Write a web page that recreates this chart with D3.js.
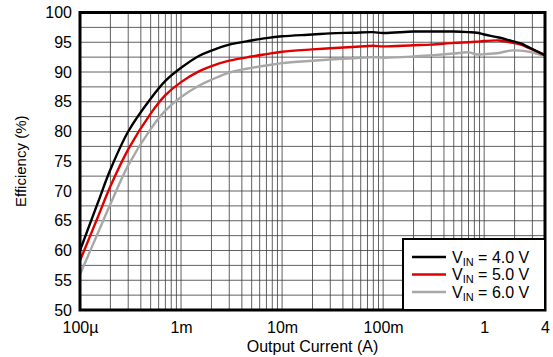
<!DOCTYPE html>
<html><head><meta charset="utf-8">
<script src="https://cdn.jsdelivr.net/npm/d3@7"></script>
<style>
html,body{margin:0;padding:0;background:#fff;}
text{font-family:"Liberation Sans",Arial,Helvetica,sans-serif;fill:#000;}
</style></head>
<body>
<svg id="chart" width="553" height="357"></svg>
<script>
const currents = [1e-4,1.5e-4,2e-4,3e-4,5e-4,7e-4,1e-3,1.5e-3,2e-3,3e-3,5e-3,7e-3,1e-2,2e-2,3e-2,5e-2,8e-2,0.1,0.2,0.3,0.5,0.7,0.85,1,1.4,1.8,2.3,2.8,4];
const effVin40 = [60,68.0,73.6,80.0,85.5,88.5,90.7,92.7,93.6,94.6,95.3,95.7,96.0,96.3,96.5,96.6,96.7,96.55,96.8,96.8,96.8,96.7,96.6,96.3,95.8,95.3,94.8,94.1,92.8];
const effVin50 = [58.3,65.6,70.8,77.0,83.0,86.1,88.3,90.1,91.0,91.9,92.6,93.0,93.4,93.8,94.0,94.2,94.4,94.3,94.5,94.6,94.9,95.0,95.1,95.2,95.3,95.0,94.6,94.0,92.9];
const effVin60 = [56,62.9,67.8,74.3,80.4,83.5,85.8,87.7,88.7,89.9,90.7,91.1,91.5,91.9,92.1,92.3,92.5,92.4,92.6,92.8,93.1,93.3,92.95,93.0,93.2,93.6,93.6,93.4,92.7];
const seriesNames = ["4.0 V","5.0 V","6.0 V"];
const seriesColors = ["#000000","#e00000","#a8a8a8"];
const xTickValues = [1e-4,1e-3,1e-2,1e-1,1,4];
const xTickLabels = ["100\u00b5","1m","10m","100m","1","4"];
const yTickValues = [50,55,60,65,70,75,80,85,90,95,100];

const svg = d3.select("#chart");
const L=80, R=545, T=12.5, B=310;
const x = d3.scaleLog().domain([1e-4,4]).range([L,R]);
const y = d3.scaleLinear().domain([50,100]).range([B,T]);

// grid
const g = svg.append("g");
const vGrid = [];
for (let e=-4; e<=0; e++) for (let m=1; m<=9; m++) { const v=m*Math.pow(10,e); if (v<=4.0001) vGrid.push(v); }
g.selectAll(".vg").data(vGrid).enter().append("line")
  .attr("x1",d=>x(d)).attr("x2",d=>x(d)).attr("y1",T).attr("y2",B)
  .attr("stroke","#3a3a3a").attr("stroke-width",0.8);
const hGrid = d3.range(50,100.01,2.5);
g.selectAll(".hg").data(hGrid).enter().append("line")
  .attr("x1",L).attr("x2",R).attr("y1",d=>y(d)).attr("y2",d=>y(d))
  .attr("stroke","#3a3a3a").attr("stroke-width",0.8);

// curves
const all = [effVin40,effVin50,effVin60];
const line = d3.line().x((d,i)=>x(currents[i])).y(d=>y(d)).curve(d3.curveCatmullRom.alpha(0.5));
svg.append("defs").append("clipPath").attr("id","clip").append("rect").attr("x",L).attr("y",T).attr("width",R-L).attr("height",B-T);
const cg = svg.append("g").attr("clip-path","url(#clip)");
[2,1,0].forEach(k=>{
  cg.append("path").datum(all[k]).attr("d",line).attr("fill","none")
    .attr("stroke",seriesColors[k]).attr("stroke-width",2.4).attr("stroke-linejoin","round");
});

// border
svg.append("rect").attr("x",L).attr("y",T).attr("width",R-L).attr("height",B-T)
  .attr("fill","none").attr("stroke","#000").attr("stroke-width",3);

// axes
const yAxis = d3.axisLeft(y).tickValues(yTickValues).tickSize(0).tickPadding(8);
const ya = svg.append("g").attr("transform",`translate(${L},0)`).call(yAxis);
ya.select(".domain").remove();
ya.selectAll("text").style("font-size","16px").attr("font-family",null);

const xAxis = d3.axisBottom(x).tickValues(xTickValues).tickFormat((d,i)=>xTickLabels[i]).tickSize(0).tickPadding(12);
const xa = svg.append("g").attr("transform",`translate(0,${B})`).call(xAxis);
xa.select(".domain").remove();
xa.selectAll("text").style("font-size","16px").attr("font-family",null);

svg.append("text").attr("x",(L+R)/2).attr("y",352).attr("text-anchor","middle")
  .style("font-size","16px").text("Output Current (A)");
svg.append("text").attr("transform",`translate(26,${(T+B)/2}) rotate(-90)`).attr("text-anchor","middle")
  .style("font-size","15px").text("Efficiency (%)");

// legend
const lg = svg.append("g");
lg.append("rect").attr("x",403).attr("y",239).attr("width",R-403).attr("height",B-239)
  .attr("fill","#fff").attr("stroke","#000").attr("stroke-width",2);
seriesNames.forEach((n,i)=>{
  const yy = 257 + i*17.5;
  lg.append("line").attr("x1",412).attr("x2",446).attr("y1",yy).attr("y2",yy)
    .attr("stroke",seriesColors[i]).attr("stroke-width",2.4);
  const t = lg.append("text").attr("x",452).attr("y",yy+5.5).style("font-size","16px");
  t.append("tspan").text("V");
  t.append("tspan").attr("dy",3).style("font-size","11px").text("IN");
  t.append("tspan").attr("dy",-3).text(" = "+n);
});
</script>
</body></html>
